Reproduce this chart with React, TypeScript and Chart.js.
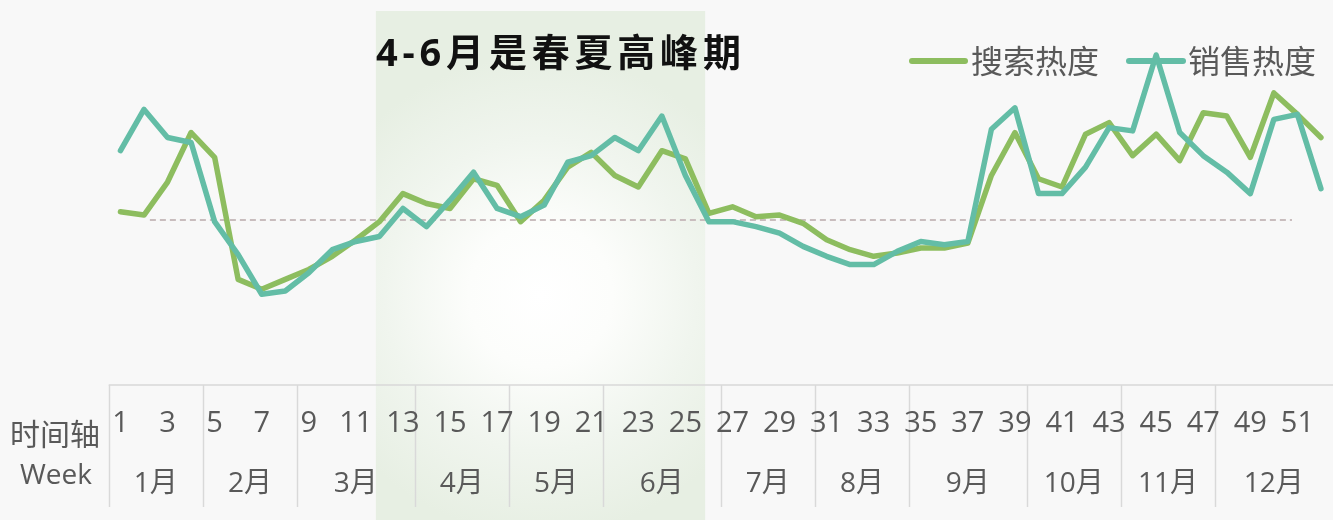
import React, { useEffect, useRef } from "react";
import { Chart, registerables } from "chart.js";

Chart.register(...registerables);

// ---- data ----
const weeks: number[] = Array.from({ length: 52 }, (_, i) => i + 1);
const weekTickLabels: string[] = weeks.map((w) => (w % 2 === 1 ? String(w) : ""));
const monthLabels: string[] = ["1月", "2月", "3月", "4月", "5月", "6月", "7月", "8月", "9月", "10月", "11月", "12月"];
const weeksPerMonth: number[] = [4, 4, 5, 4, 4, 5, 4, 4, 5, 4, 4, 5];

const searchHeat: number[] = [
  105, 103, 123, 153, 138, 64, 58, 64, 70, 78, 88, 99, 116,
  110, 107, 125, 121, 99, 112, 132, 141, 127, 120, 142, 137, 104,
  108, 102, 103, 98, 88, 82, 78, 80, 83, 83, 86, 127, 153,
  125, 120, 152, 159, 139, 152, 136, 165, 163, 138, 177, 164, 150,
];
const salesHeat: number[] = [
  142, 167, 150, 147, 99, 79, 55, 57, 68, 82, 87, 90, 107,
  96, 112, 129, 107, 102, 109, 135, 139, 150, 142, 163, 127, 99,
  99, 96, 92, 84, 78, 73, 73, 81, 87, 85, 87, 155, 168,
  116, 116, 132, 156, 154, 200, 153, 139, 129, 116, 161, 164, 119,
];

const seriesNames: string[] = ["搜索热度", "销售热度"];
const seriesColors: string[] = ["#8DBD5F", "#63BDA6"];
const baselineValue = 100;
const baselineRange: number[] = [1.25, 49.77]; // in category index units
const highlightRange: number[] = [10.85, 24.84]; // index range of the 4-6月 band
const titleText = "4-6月是春夏高峰期";
const axisTitle: string[] = ["时间轴", "Week"];

const FONT = "'Open Sans', 'Noto Sans CJK SC', sans-serif";
const CJK_FONT = "'Noto Sans CJK SC', sans-serif";
const TEXT_COLOR = "#595959";

const decorPlugin = {
  id: "decor",
  beforeDraw(chart: any) {
    const { ctx, width, height, scales } = chart;
    const x = scales.x;
    ctx.save();
    ctx.fillStyle = "#F8F8F8";
    ctx.fillRect(0, 0, width, height);

    // highlight band
    const bx0 = x.getPixelForValue(highlightRange[0]);
    const bx1 = x.getPixelForValue(highlightRange[1]);
    const by0 = 11;
    const cx = (bx0 + bx1) / 2;
    const g = ctx.createRadialGradient(cx, 295, 0, cx, 295, 240);
    g.addColorStop(0, "#FFFFFF");
    g.addColorStop(0.3, "#FCFDFB");
    g.addColorStop(0.65, "#F0F5EE");
    g.addColorStop(1, "#E7EFE3");
    ctx.fillStyle = g;
    ctx.fillRect(bx0, by0, bx1 - bx0, height - by0);
    ctx.restore();
  },
  afterDraw(chart: any) {
    const { ctx, chartArea, scales, width } = chart;
    const x = scales.x;
    ctx.save();

    // axis frame
    const axTop = chartArea.bottom;
    const step = x.getPixelForValue(1) - x.getPixelForValue(0);
    ctx.strokeStyle = "#D9D9D9";
    ctx.lineWidth = 1.5;
    ctx.beginPath();
    ctx.moveTo(chartArea.left, axTop);
    ctx.lineTo(width, axTop);
    ctx.stroke();

    let idx = 0;
    const bounds: number[] = [idx];
    weeksPerMonth.forEach((n) => {
      idx += n;
      bounds.push(idx);
    });
    ctx.beginPath();
    bounds.slice(0, -1).forEach((b) => {
      const px = Math.round(x.getPixelForValue(b) - step / 2) + 0.5;
      ctx.moveTo(px, axTop);
      ctx.lineTo(px, 507);
    });
    ctx.stroke();

    // week labels
    ctx.fillStyle = TEXT_COLOR;
    ctx.textAlign = "center";
    ctx.textBaseline = "middle";
    ctx.font = `29px ${FONT}`;
    weekTickLabels.forEach((lab, i) => {
      if (lab) ctx.fillText(lab, x.getPixelForValue(i), 424);
    });
    // month labels
    ctx.font = `28px ${FONT}`;
    monthLabels.forEach((m, k) => {
      const mid = (bounds[k] + bounds[k + 1] - 1) / 2;
      ctx.fillText(m, x.getPixelForValue(mid), 484);
    });
    // axis title
    ctx.font = `30px ${CJK_FONT}`;
    ctx.fillText(axisTitle[0], 55, 434);
    ctx.font = `28px ${FONT}`;
    ctx.fillText(axisTitle[1], 56, 476);

    // title
    ctx.fillStyle = "#111111";
    ctx.textAlign = "left";
    ctx.font = `bold 38px ${FONT}`;
    (ctx as any).letterSpacing = "4.8px";
    ctx.fillText(titleText, 376, 55);
    (ctx as any).letterSpacing = "0px";

    // legend
    const legendItems = [
      { x0: 912, x1: 965, tx: 971 },
      { x0: 1129, x1: 1183, tx: 1188 },
    ];
    ctx.lineCap = "round";
    ctx.lineWidth = 6;
    ctx.font = `32px ${CJK_FONT}`;
    legendItems.forEach((it, i) => {
      ctx.strokeStyle = seriesColors[i];
      ctx.beginPath();
      ctx.moveTo(it.x0, 61);
      ctx.lineTo(it.x1, 61);
      ctx.stroke();
      ctx.fillStyle = TEXT_COLOR;
      ctx.fillText(seriesNames[i], it.tx, 61);
    });
    ctx.restore();
  },
  beforeDatasetsDraw(chart: any) {
    const { ctx, scales } = chart;
    const x = scales.x;
    const y = scales.y;
    ctx.save();
    ctx.strokeStyle = "#C9BDBE";
    ctx.lineWidth = 2;
    ctx.setLineDash([6, 4]);
    const py = Math.round(y.getPixelForValue(baselineValue));
    ctx.beginPath();
    ctx.moveTo(x.getPixelForValue(baselineRange[0]), py);
    ctx.lineTo(x.getPixelForValue(baselineRange[1]), py);
    ctx.stroke();
    ctx.restore();
  },
};

export default function App() {
  const ref = useRef<HTMLCanvasElement | null>(null);
  useEffect(() => {
    if (!ref.current) return;
    const chart = new Chart(ref.current, {
      type: "line",
      data: {
        labels: weeks.map(String),
        datasets: [
          {
            label: seriesNames[0],
            data: searchHeat,
            borderColor: seriesColors[0],
            borderWidth: 5.5,
            pointRadius: 0,
            tension: 0,
            borderJoinStyle: "round",
            borderCapStyle: "round",
            order: 1,
          },
          {
            label: seriesNames[1],
            data: salesHeat,
            borderColor: seriesColors[1],
            borderWidth: 5.5,
            pointRadius: 0,
            tension: 0,
            borderJoinStyle: "round",
            borderCapStyle: "round",
            order: 0,
          },
        ],
      },
      options: {
        responsive: false,
        animation: false,
        layout: { padding: { left: 108.7, right: 0.3, top: 22, bottom: 135 } },
        plugins: { legend: { display: false }, tooltip: { enabled: false } },
        scales: {
          x: { display: false, offset: true },
          y: { display: false, min: 0, max: 220 },
        },
      },
      plugins: [decorPlugin],
    });
    return () => chart.destroy();
  }, []);
  return (
    <div style={{ position: "fixed", left: 0, top: 0, width: 1333, height: 520 }}>
      <canvas ref={ref} width={1333} height={520} style={{ display: "block" }} />
    </div>
  );
}
